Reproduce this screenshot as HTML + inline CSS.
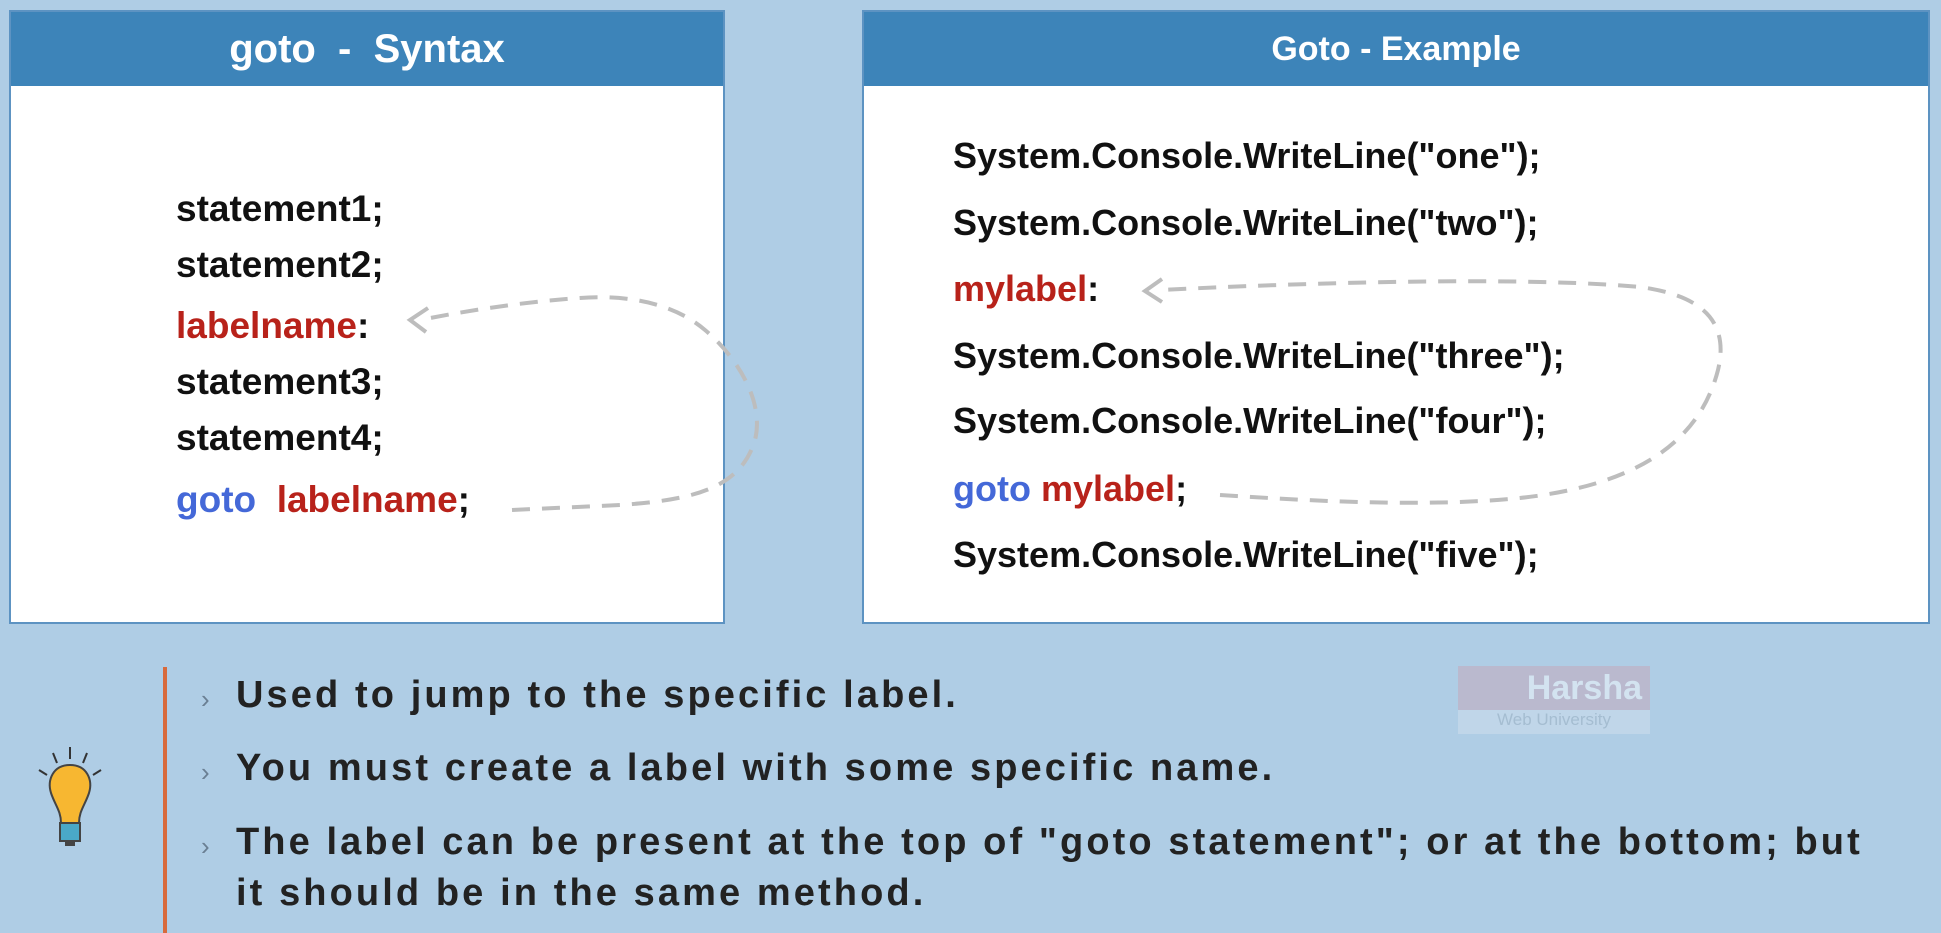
<!DOCTYPE html>
<html><head><meta charset="utf-8"><style>
body{margin:0;width:1941px;height:933px;background:#afcde5;position:relative;overflow:hidden;font-family:"Liberation Sans",sans-serif;}
.box{position:absolute;background:#fff;border:2px solid #5d93c2;box-sizing:border-box;}
.hd{position:absolute;left:0;top:0;right:0;height:74px;background:#3d84b9;color:#fff;font-weight:bold;text-align:center;}
.t{position:absolute;font-weight:bold;color:#111;white-space:nowrap;}
.r{color:#b8221a}.b{color:#4468d8}
.bl{position:absolute;left:236px;font-weight:bold;font-size:38px;letter-spacing:3.1px;color:#222;white-space:nowrap;}
.ch{position:absolute;left:201px;color:#6a7f93;font-size:26px;}
</style></head><body>
<div class="box" style="left:9px;top:10px;width:716px;height:614px">
 <div class="hd" style="font-size:40px;line-height:74px;">goto &nbsp;- &nbsp;Syntax</div>
</div>
<div class="box" style="left:862px;top:10px;width:1068px;height:614px">
 <div class="hd" style="font-size:34px;line-height:74px;">Goto - Example</div>
</div>
<div style="position:absolute;left:176px;top:0;font-size:37px">
 <div class="t" style="top:188px">statement1;</div>
 <div class="t" style="top:244px">statement2;</div>
 <div class="t" style="top:305px"><span class="r">labelname</span>:</div>
 <div class="t" style="top:361px">statement3;</div>
 <div class="t" style="top:417px">statement4;</div>
 <div class="t" style="top:479px"><span class="b">goto</span>&nbsp; <span class="r">labelname</span>;</div>
</div>
<div style="position:absolute;left:953px;top:0;font-size:36px">
 <div class="t" style="top:135px">System.Console.WriteLine("one");</div>
 <div class="t" style="top:202px">System.Console.WriteLine("two");</div>
 <div class="t" style="top:268px"><span class="r">mylabel</span>:</div>
 <div class="t" style="top:335px">System.Console.WriteLine("three");</div>
 <div class="t" style="top:400px">System.Console.WriteLine("four");</div>
 <div class="t" style="top:468px"><span class="b">goto</span> <span class="r">mylabel</span>;</div>
 <div class="t" style="top:534px">System.Console.WriteLine("five");</div>
</div>
<svg width="1941" height="933" style="position:absolute;left:0;top:0" fill="none" stroke="#bdbdbd" stroke-width="4">
 <path d="M512 510 L620 505 C690 500 740 490 755 440 C765 400 735 355 705 330 C670 300 620 295 580 298 C520 302 460 312 420 320" stroke-dasharray="18 12"/>
 <path d="M428 308 L410 320 L426 332" stroke-dasharray="none"/>
 <path d="M1220 495 C1300 500 1420 508 1520 498 C1640 485 1700 440 1718 370 C1730 320 1700 295 1640 287 C1520 276 1300 283 1160 290" stroke-dasharray="18 12"/>
 <path d="M1162 279 L1145 291 L1162 302" stroke-dasharray="none"/>
</svg>
<div style="position:absolute;left:163px;top:667px;width:4px;height:266px;background:#d86a3c"></div>
<div class="ch" style="top:684px">›</div><div class="bl" style="top:674px">Used to jump to the specific label.</div>
<div class="ch" style="top:757px">›</div><div class="bl" style="top:747px">You must create a label with some specific name.</div>
<div class="ch" style="top:831px">›</div><div class="bl" style="top:821px">The label can be present at the top of "goto statement"; or at the bottom; but</div>
<div class="bl" style="top:872px">it should be in the same method.</div>
<svg width="80" height="110" style="position:absolute;left:25px;top:745px">
 <g stroke="#333" stroke-width="2"><line x1="45" y1="2" x2="45" y2="14"/><line x1="28" y1="8" x2="32" y2="18"/><line x1="62" y1="8" x2="58" y2="18"/><line x1="14" y1="25" x2="22" y2="30"/><line x1="76" y1="25" x2="68" y2="30"/></g>
 <path d="M45 20 C28 20 22 35 26 48 C30 60 36 66 36 78 L54 78 C54 66 60 60 64 48 C68 35 62 20 45 20Z" fill="#f7b731" stroke="#444" stroke-width="2"/>
 <rect x="35" y="78" width="20" height="18" fill="#4aa8c8" stroke="#444" stroke-width="2"/>
 <rect x="40" y="96" width="10" height="5" fill="#444"/>
</svg>
<div style="position:absolute;left:1458px;top:666px;width:192px;height:68px;opacity:.45">
 <div style="height:44px;background:#c9a2b4;color:#fff;font-weight:bold;font-size:34px;line-height:44px;text-align:right;padding-right:8px">Harsha</div>
 <div style="height:24px;background:#d5e3ee;color:#9ab;font-size:17px;text-align:center">Web University</div>
</div>
</body></html>
